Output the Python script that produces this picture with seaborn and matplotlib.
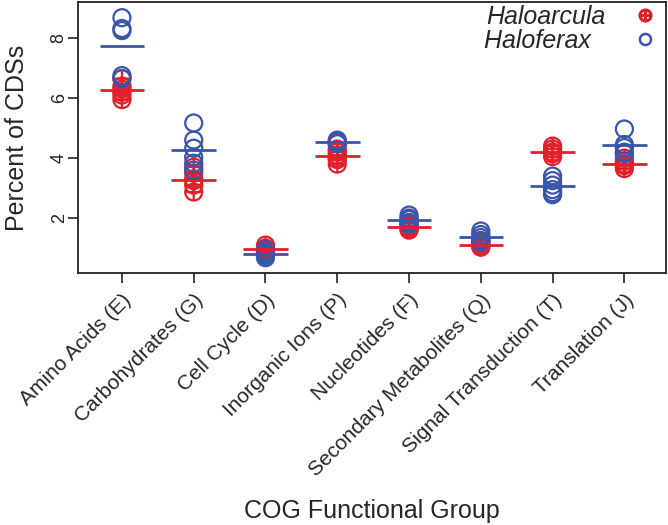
import numpy as np
import pandas as pd
import matplotlib
matplotlib.use('Agg')
import matplotlib.pyplot as plt
from matplotlib.path import Path
import seaborn as sns

# COG groups and per-genome percentages
categories = ['Amino Acids (E)', 'Carbohydrates (G)', 'Cell Cycle (D)', 'Inorganic Ions (P)',
              'Nucleotides (F)', 'Secondary Metabolites (Q)', 'Signal Transduction (T)', 'Translation (J)']

haloarcula = [
    [6.65, 6.4, 6.3, 6.2, 6.1, 5.95],
    [3.7, 3.5, 3.3, 3.25, 3.1, 2.87],
    [1.1, 1.0, 0.95, 0.9, 0.9],
    [4.3, 4.2, 4.1, 4.0, 3.95, 3.8],
    [1.85, 1.75, 1.7, 1.65, 1.6],
    [1.25, 1.15, 1.1, 1.05, 1.03],
    [4.4, 4.3, 4.2, 4.15, 4.05],
    [4.0, 3.9, 3.8, 3.75, 3.65],
]
haloferax = [
    [8.68, 8.32, 8.25, 6.75, 6.65],
    [5.17, 4.6, 4.33, 4.03, 3.83, 3.6],
    [0.95, 0.85, 0.8, 0.75, 0.68],
    [4.6, 4.55, 4.5, 4.48, 4.5],
    [2.1, 2.0, 1.95, 1.85, 1.8],
    [1.57, 1.45, 1.35, 1.25, 1.2],
    [3.4, 3.25, 3.1, 2.95, 2.85, 2.78],
    [4.97, 4.45, 4.35, 4.2, 4.15],
]

red = '#e2202c'
blue = '#3a55a8'

rows = []
for i, cat in enumerate(categories):
    for v in haloarcula[i]:
        rows.append((i + 1, cat, 'Haloarcula', v))
    for v in haloferax[i]:
        rows.append((i + 1, cat, 'Haloferax', v))
df = pd.DataFrame(rows, columns=['pos', 'group', 'genus', 'pct'])

sns.set_style('ticks')
plt.rcParams['font.family'] = ['Liberation Sans', 'DejaVu Sans']

# circle with a plus inside (R pch=10)
circ = Path.unit_circle()
plus = Path([(-1, 0), (1, 0), (0, -1), (0, 1)],
            [Path.MOVETO, Path.LINETO, Path.MOVETO, Path.LINETO])
circle_plus = Path.make_compound_path(circ, plus)

fig = plt.figure(figsize=(6.68, 5.25), dpi=100)
ax = fig.add_axes([0.117, 0.48, 0.88, 0.516])

styles = {'Haloarcula': (red, circle_plus), 'Haloferax': (blue, 'o')}
for genus, (col, mk) in styles.items():
    sub = df[df['genus'] == genus]
    sns.scatterplot(data=sub, x='pos', y='pct', marker=mk, s=150, facecolor='none',
                    edgecolor=col, linewidth=1.6, ax=ax, label=genus, legend=False)
    means = sub.groupby('pos')['pct'].mean()
    ax.hlines(means.values, means.index - 0.31, means.index + 0.31, color=col, lw=2)

ax.set_xlim(0.39, 8.58)
ax.set_ylim(0.17, 9.2)
ax.set_yticks([2, 4, 6, 8])
ax.set_yticklabels(['2', '4', '6', '8'], rotation=90, va='center', fontsize=13)
ax.set_xticks(range(1, 9))
ax.set_xticklabels(categories, rotation=45, ha='right', rotation_mode='anchor', fontsize=15)
ax.tick_params(length=7.5, width=1.2, color='#222222')
ax.tick_params(axis='y', pad=0)
ax.tick_params(axis='x', pad=5)
for sp in ax.spines.values():
    sp.set_visible(True)
    sp.set_linewidth(1.3)
    sp.set_color('#222222')
ax.set_ylabel('Percent of CDSs', fontsize=18, labelpad=16)
ax.set_xlabel('')
fig.text(0.557, 0.014, 'COG Functional Group', ha='center', va='baseline', fontsize=18)

handles = [
    plt.Line2D([], [], ls='none', marker=circle_plus, ms=8, mfc='none', mec=red, mew=2.2),
    plt.Line2D([], [], ls='none', marker='o', ms=8, mfc='none', mec=blue, mew=1.8),
]
leg = ax.legend(handles, ['Haloarcula', 'Haloferax  '], loc='upper right',
                bbox_to_anchor=(0.988, 0.995), frameon=False,
                markerfirst=False, prop={'style': 'italic', 'size': 18},
                handletextpad=1.1, labelspacing=0.0, borderaxespad=0.0, borderpad=0.05,
                handlelength=1)

fig.savefig('out.png', dpi=100)
